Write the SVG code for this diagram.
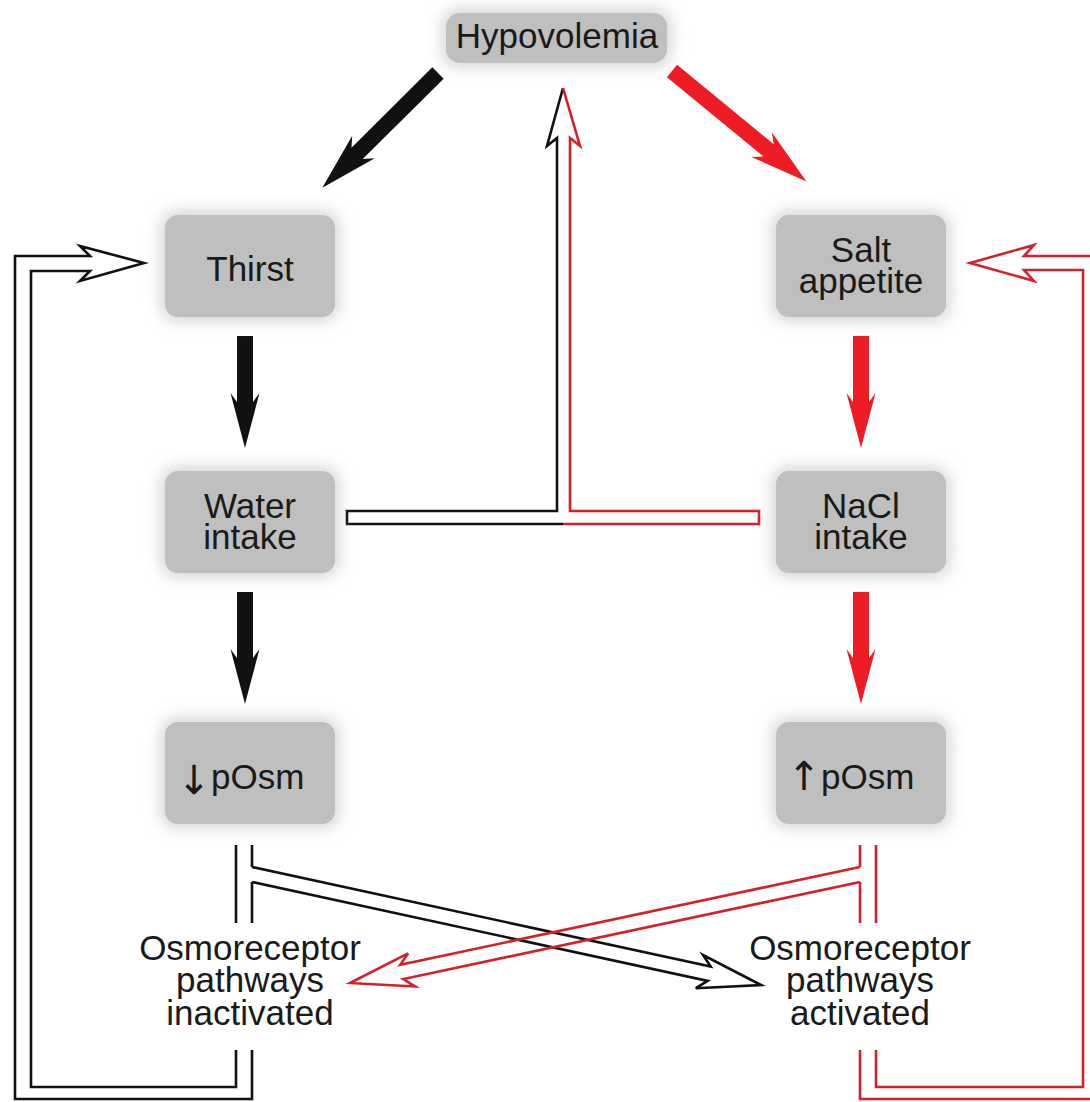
<svg xmlns="http://www.w3.org/2000/svg" width="1090" height="1102" viewBox="0 0 1090 1102">
<defs>
<filter id="sh" x="-40%" y="-60%" width="180%" height="220%"><feGaussianBlur stdDeviation="8"/></filter>
</defs>
<style>
.box{fill:#bfbfbf}
.halo{fill:#a8a8a8;opacity:0.5;filter:url(#sh)}
.lbl{font-family:"Liberation Sans",Arial,sans-serif;font-size:35px;fill:#1a1a1a;text-anchor:middle}
.st{text-anchor:start}
.arw{font-family:"DejaVu Sans",sans-serif;font-size:40px;fill:#1a1a1a;text-anchor:middle}
.k{fill:none;stroke:#111;stroke-width:2.6;stroke-linejoin:miter}
.r{fill:none;stroke:#d42129;stroke-width:2.6;stroke-linejoin:miter}
.tk{fill:#111}
.tr{fill:#ee1c25}
</style>
<rect width="1090" height="1102" fill="#fff"/>

<g id="connectors">
  <!-- thick arrows -->
  <path class="tk" transform="translate(438,73) rotate(135.2)" d="M0,-8 H114 L105,-16 L163,0 L105,16 L114,8 H0 Z"/>
  <path class="tr" transform="translate(672,71) rotate(39.4)" d="M0,-8 H125 L116,-16 L174,0 L116,16 L125,8 H0 Z"/>
  <path class="tk" transform="translate(245,336) rotate(90)" d="M0,-8 H66 L57,-14.5 L112,0 L57,14.5 L66,8 H0 Z"/>
  <path class="tk" transform="translate(245,592) rotate(90)" d="M0,-8 H66 L57,-14.5 L112,0 L57,14.5 L66,8 H0 Z"/>
  <path class="tr" transform="translate(861,336) rotate(90)" d="M0,-8 H66 L57,-14.5 L112,0 L57,14.5 L66,8 H0 Z"/>
  <path class="tr" transform="translate(861,592) rotate(90)" d="M0,-8 H66 L57,-14.5 L112,0 L57,14.5 L66,8 H0 Z"/>

  <!-- central feedback to Hypovolemia -->
  <path class="k" d="M563,524 H347 V511 H557 V138 L547,146 L563,88"/>
  <path class="r" d="M563,88 L580,146 L570,138 V511 H759 V524 H563"/>

  <!-- left loop to Thirst -->
  <path class="k" d="M236,1050 V1087 H31 V271 H90 L80,281 L144,263 L80,246 L90,256 H15 V1099 H252 V1050"/>
  <!-- right loop to Salt appetite -->
  <path class="r" d="M876,1050 V1087 H1083 V270 H1024 L1034,281 L970,263 L1034,245 L1024,256 H1098 V1099 H860 V1050"/>

  <!-- bars under pOsm -->
  <path class="k" d="M236,845 V923 M252,845 V867 M252,882 V923"/>
  <path class="r" d="M876,845 V923 M860,845 V867 M860,882 V923"/>

  <!-- crossing arrows -->
  <path class="k" d="M252,867 L710.7,966.6 L703,955 L761,985 L695.8,988.2 L707.7,980.9 L252,882"/>
  <path class="r" d="M860,867 L400.3,964.8 L408.1,953.3 L350,983 L415.1,986.5 L403.3,979.1 L860,882"/>
</g>

<g id="hypovolemia">
  <rect class="halo" x="442" y="9" width="229" height="58" rx="16"/>
  <rect class="box" x="446" y="13" width="221" height="50" rx="14"/>
  <text class="lbl" x="557" y="48">Hypovolemia</text>
</g>
<g id="thirst">
  <rect class="halo" x="161" y="211" width="178" height="110" rx="16"/>
  <rect class="box" x="165" y="215" width="170" height="102" rx="13"/>
  <text class="lbl" x="250" y="281">Thirst</text>
</g>
<g id="salt-appetite">
  <rect class="halo" x="772" y="211" width="178" height="110" rx="16"/>
  <rect class="box" x="776" y="215" width="170" height="102" rx="13"/>
  <text class="lbl" x="861" y="262">Salt<tspan x="861" dy="31">appetite</tspan></text>
</g>
<g id="water-intake">
  <rect class="halo" x="161" y="467" width="178" height="110" rx="16"/>
  <rect class="box" x="165" y="471" width="170" height="102" rx="13"/>
  <text class="lbl" x="250" y="518">Water<tspan x="250" dy="31">intake</tspan></text>
</g>
<g id="nacl-intake">
  <rect class="halo" x="772" y="467" width="178" height="110" rx="16"/>
  <rect class="box" x="776" y="471" width="170" height="102" rx="13"/>
  <text class="lbl" x="861" y="518">NaCl<tspan x="861" dy="31">intake</tspan></text>
</g>
<g id="posm-down">
  <rect class="halo" x="161" y="718" width="178" height="110" rx="16"/>
  <rect class="box" x="165" y="722" width="170" height="102" rx="13"/>
  <text x="249" y="789" class="lbl"><tspan class="arw" x="194" y="794">↓</tspan><tspan class="st" x="211" y="789">pOsm</tspan></text>
</g>
<g id="posm-up">
  <rect class="halo" x="772" y="718" width="178" height="110" rx="16"/>
  <rect class="box" x="776" y="722" width="170" height="102" rx="13"/>
  <text x="860" y="789" class="lbl"><tspan class="arw" x="804" y="790">↑</tspan><tspan class="st" x="821" y="789">pOsm</tspan></text>
</g>
<g id="osmo-inactivated">
  <text class="lbl" x="250" y="960">Osmoreceptor<tspan x="250" dy="32">pathways</tspan><tspan x="250" dy="33">inactivated</tspan></text>
</g>
<g id="osmo-activated">
  <text class="lbl" x="860" y="960">Osmoreceptor<tspan x="860" dy="32">pathways</tspan><tspan x="860" dy="33">activated</tspan></text>
</g>
</svg>
